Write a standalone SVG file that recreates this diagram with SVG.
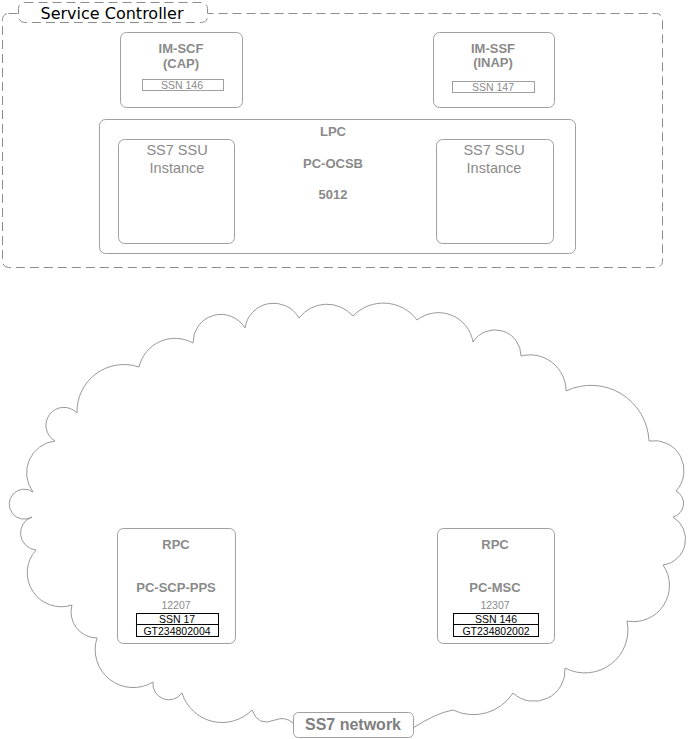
<svg xmlns="http://www.w3.org/2000/svg" width="688" height="739" viewBox="0 0 688 739">
<style>
.bx{fill:#fff;stroke:#a0a0a0;stroke-width:1}
.dash{fill:#fff;stroke:#8c8c8c;stroke-width:1;stroke-dasharray:9,5}
.t{font-family:"Liberation Sans",Arial,sans-serif;fill:#8a8a8a;text-anchor:middle}
.b{font-weight:bold;font-size:13px}
.r{font-size:14.5px}
.s{font-size:10.5px}
.k{font-family:"Liberation Sans",Arial,sans-serif;fill:#000;text-anchor:middle;font-size:10.5px}
.sb{fill:#fff;stroke:#a0a0a0;stroke-width:1}
.kb{fill:#fff;stroke:#000;stroke-width:1}
</style>
<g id="service-controller">
<rect class="dash" x="2.5" y="13.5" width="660" height="254" rx="6"/>
<rect class="dash" x="18.5" y="2.5" width="189" height="20" rx="6"/>
<text x="112" y="19" font-family="DejaVu Sans,Verdana,sans-serif" font-size="16" fill="#000" text-anchor="middle">Service Controller</text>
</g>
<g id="im-scf">
<rect class="bx" x="120.5" y="32.5" width="122" height="75" rx="6"/>
<text class="t b" x="181" y="53">IM-SCF</text>
<text class="t b" x="181" y="68">(CAP)</text>
<rect class="sb" x="142.5" y="79.5" width="81" height="11"/>
<text class="t s" x="182" y="88.5">SSN 146</text>
</g>
<g id="im-ssf">
<rect class="bx" x="433.5" y="32.5" width="121" height="75" rx="6"/>
<text class="t b" x="493" y="53">IM-SSF</text>
<text class="t b" x="493" y="67">(INAP)</text>
<rect class="sb" x="452.5" y="81.5" width="82" height="11"/>
<text class="t s" x="493" y="90.5">SSN 147</text>
</g>
<g id="lpc">
<rect class="bx" x="99.5" y="119.5" width="476" height="134" rx="6"/>
<text class="t b" x="333" y="136">LPC</text>
<text class="t b" x="333" y="168">PC-OCSB</text>
<text class="t b" x="333" y="199">5012</text>
</g>
<g id="ssu-left">
<rect class="bx" x="118.5" y="139.5" width="116" height="104" rx="6"/>
<text class="t r" x="177" y="155">SS7 SSU</text>
<text class="t r" x="177" y="173">Instance</text>
</g>
<g id="ssu-right">
<rect class="bx" x="436.5" y="139.5" width="117" height="104" rx="6"/>
<text class="t r" x="494" y="155">SS7 SSU</text>
<text class="t r" x="494" y="173">Instance</text>
</g>
<g id="ss7-network">
<path fill="#fff" stroke="#999" stroke-width="1" d="M 293,723 Q 285,716 275,720 Q 258,727 252,710 A 42 42 0 0 1 182,693 A 16 16 0 0 1 153,682 A 38 38 0 0 1 97,638 A 26 26 0 0 1 72,605 A 34 34 0 0 1 36,550 A 17 17 0 0 1 32,517 A 15 15 0 1 1 33,492 A 32 32 0 0 1 55,441 A 18 18 0 1 1 77,413 A 47 47 0 0 1 139,367 A 37 37 0 0 1 193,343 A 28 28 0 0 1 245,328 A 29 29 0 0 1 299,318 A 35 35 0 0 1 353,316 A 42 42 0 0 1 417,320 A 35 35 0 0 1 473,342 A 26 26 0 0 1 521,356 A 36 36 0 0 1 566,391 A 58 58 0 0 1 649,441 A 30 30 0 0 1 676,491 A 14 14 0 0 1 673,517 A 26 26 0 0 1 663,565 A 36 36 0 0 1 627,621 A 43 43 0 0 1 565,668 A 31 31 0 0 1 513,693 A 47 47 0 0 1 453,710 Q 436,713 413,728"/>
<rect class="bx" x="293.5" y="712.5" width="120" height="25" rx="5"/>
<text x="353" y="730" font-family="Liberation Sans,Arial,sans-serif" font-weight="bold" font-size="16" fill="#808080" text-anchor="middle">SS7 network</text>
</g>
<g id="rpc-scp">
<rect class="bx" x="117.5" y="528.5" width="118" height="115" rx="6"/>
<text class="t b" x="176" y="549">RPC</text>
<text class="t b" x="176" y="592">PC-SCP-PPS</text>
<text class="t s" x="176" y="609">12207</text>
<rect class="kb" x="136.5" y="613.5" width="82" height="11"/>
<rect class="kb" x="136.5" y="624.5" width="82" height="12"/>
<text class="k" x="177" y="622.5">SSN 17</text>
<text class="k" x="177" y="634.5">GT234802004</text>
</g>
<g id="rpc-msc">
<rect class="bx" x="437.5" y="528.5" width="117" height="115" rx="6"/>
<text class="t b" x="495" y="549">RPC</text>
<text class="t b" x="495" y="592">PC-MSC</text>
<text class="t s" x="495" y="609">12307</text>
<rect class="kb" x="453.5" y="613.5" width="85" height="11"/>
<rect class="kb" x="453.5" y="624.5" width="85" height="12"/>
<text class="k" x="496" y="622.5">SSN 146</text>
<text class="k" x="496" y="634.5">GT234802002</text>
</g>
<g id="connectors"/>
</svg>
